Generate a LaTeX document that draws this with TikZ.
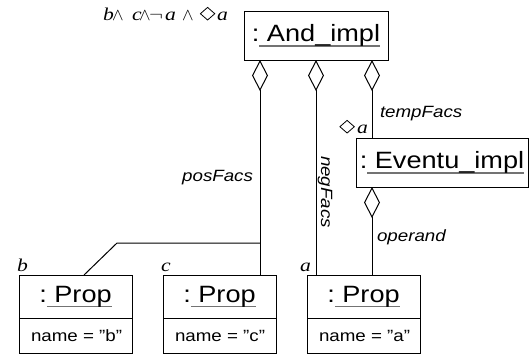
\documentclass[tikz,border=0pt]{standalone}
\usepackage{graphicx}
\usepackage{fontspec}
\setmainfont{Liberation Sans}[FakeStretch=1.15]
\newfontfamily\serifit{Liberation Serif}[FakeStretch=1.2]
\usetikzlibrary{arrows.meta}

\definecolor{ulcol}{gray}{0.45}

% grey underline under an object name
\newcommand\ulbar[1]{\setbox0\hbox{#1}\rlap{\color{ulcol}\rule[-5pt]{\wd0}{1.6pt}}\box0}
\newcommand\objtitle[1]{:\ulbar{\ #1}}
% hollow diamond for the temporal operator
\newcommand\evop{\tikz[baseline=0pt, x=1pt, y=1pt]
  \draw[line width=0.8pt] (0,6.3) -- (7.2,12.6) -- (14.4,6.3) -- (7.2,0) -- cycle;}
\newcommand\mvar[1]{{\serifit\itshape #1}}
\newcommand\mand{$\wedge$}
\newcommand\mnot{\scalebox{1.2}[1]{$\neg$}}
% a symbol set at a fixed offset from the start of the formula
\newcommand\glyphat[2]{\rlap{\hspace*{#1pt}#2}}

\tikzset{
  every node/.style={inner sep=0pt, outer sep=0pt},
  titlefont/.style={font=\fontsize{23.6}{27}\selectfont},
  labfont/.style={font=\itshape\fontsize{16.3}{19}\selectfont},
  attrfont/.style={font=\fontsize{16.3}{19}\selectfont},
  mathlab/.style={font=\fontsize{18}{21}\selectfont},
  objbox/.style={draw, line width=1pt, titlefont},
  propbox/.style={objbox, minimum width=113pt, minimum height=43pt},
  attrbox/.style={draw, line width=1pt, attrfont, minimum width=113pt,
    minimum height=35pt, anchor=north},
  agg/.style={line width=1pt, {Diamond[open, length=31pt, width=16pt, line width=1pt]}-},
  conn/.style={line width=1pt},
}

\begin{document}
\begin{tikzpicture}[x=1pt, y=-1pt]
  \useasboundingbox (0,0) rectangle (531,360);

  % objects
  \node[objbox, minimum width=144pt, minimum height=49pt] (and) at (316,35.5) {\objtitle{And\_impl}};
  \node[objbox, minimum width=172pt, minimum height=49pt] (ev) at (442,162.5) {\objtitle{Eventu\_impl}};

  \node[propbox] (pb) at (75.5,296.5) {\objtitle{Prop}};
  \node[attrbox] (pba) at (pb.south) {\makebox[89pt][l]{name = "b"}};
  \node[propbox] (pc) at (219.5,296.5) {\objtitle{Prop}};
  \node[attrbox] (pca) at (pc.south) {\makebox[89pt][l]{name = "c"}};
  \node[propbox] (pa) at (363.5,296.5) {\objtitle{Prop}};
  \node[attrbox] (paa) at (pa.south) {\makebox[89pt][l]{name = "a"}};

  % connector columns
  \coordinate (xpos) at (260,0);
  \coordinate (xneg) at (316,0);
  \coordinate (xtmp) at (372,0);
  \coordinate (split) at (260,243);
  \coordinate (bend) at (117,243);
  \coordinate (xb) at (84,0);

  % aggregations
  \draw[agg] (and.south -| xpos) -- (pc.north -| xpos);
  \draw[conn] (split) -- (bend) -- (pb.north -| xb);
  \draw[agg] (and.south -| xneg) -- (pa.north -| xneg);
  \draw[agg] (and.south -| xtmp) -- (ev.north -| xtmp);
  \draw[agg] (ev.south -| xtmp) -- (pa.north -| xtmp);

  % role names
  \node[labfont, anchor=base west] (ltmp) at (380,117) {tempFacs};
  \node[labfont, anchor=base west] (lop) at (377,241) {operand};
  \node[labfont, anchor=base east] (lpos) at (253,181) {posFacs};
  \node[labfont, anchor=base, rotate=-90] (lneg) at (321,192) {negFacs};

  % formulas
  \node[mathlab, anchor=base west] (fand) at (103,20)
    {\glyphat{0}{\mvar{b}}\glyphat{9}{\mand}\glyphat{29}{\mvar{c}}\glyphat{36}{\mand}%
     \glyphat{46}{\mnot}\glyphat{62}{\mvar{a}}\glyphat{79}{\mand}\glyphat{97}{\evop}%
     \glyphat{114}{\mvar{a}}\hspace*{125pt}};
  \node[mathlab, anchor=base east] (fev) at (368,133) {\evop\kern2.5pt\mvar{a}};
  \node[mathlab, anchor=base west] (fb) at (17,271) {\mvar{b}};
  \node[mathlab, anchor=base west] (fc) at (161,271) {\mvar{c}};
  \node[mathlab, anchor=base west] (fa) at (300,271) {\mvar{a}};
\end{tikzpicture}
\end{document}
